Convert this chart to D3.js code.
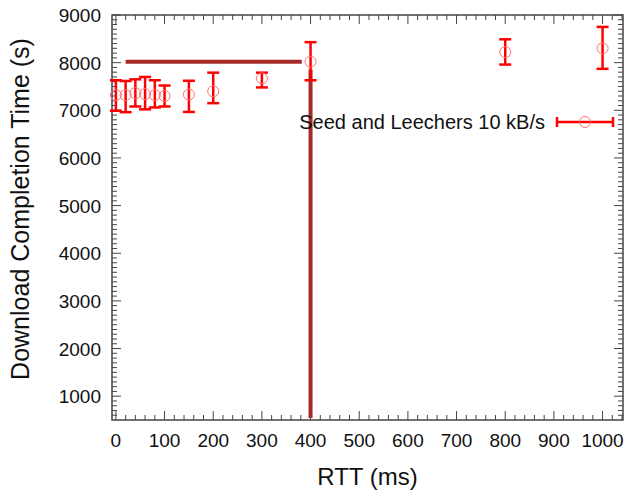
<!DOCTYPE html>
<html><head><meta charset="utf-8">
<script src="https://cdn.jsdelivr.net/npm/d3@7/dist/d3.min.js"></script>
<style>body{margin:0;background:#fff;} svg{display:block;font-family:"Liberation Sans",Arial,sans-serif;}</style>
</head><body>
<svg id="c" width="626" height="492"></svg>
<script>
const rtt = [0, 20, 40, 60, 80, 100, 150, 200, 300, 400, 800, 1000];
const meanTime = [7320, 7320, 7360, 7340, 7320, 7300, 7330, 7400, 7670, 8020, 8220, 8300];
const lowTime  = [6990, 6960, 7080, 7020, 7060, 7080, 6965, 7150, 7480, 7630, 7960, 7870];
const highTime = [7630, 7615, 7650, 7700, 7630, 7520, 7620, 7790, 7790, 8430, 8490, 8750];
const xTicks = [0, 100, 200, 300, 400, 500, 600, 700, 800, 900, 1000];
const yTicks = [1000, 2000, 3000, 4000, 5000, 6000, 7000, 8000, 9000];
const hLine = {x0: 20, x1: 382, y: 8020};
const vLine = {x: 400, y0: 7850, y1: 500};
const seriesName = "Seed and Leechers 10 kB/s";

const svg = d3.select("#c");
const L = 112, R = 623, T = 15, B = 420;
const x = d3.scaleLinear().domain([-8, 1042]).range([L, R]);
const y = d3.scaleLinear().domain([500, 9000]).range([B, T]);
const red = "#ff0000", brown = "#a52a2a", axisCol = "#444";

// ticks
const g = svg.append("g");
const xMinor = d3.range(0, 1041, 20);
const yMinor = d3.range(600, 9001, 100);
xMinor.forEach(v => {
  const major = v % 100 === 0;
  const len = major ? 9 : 5;
  g.append("line").attr("x1", x(v)).attr("x2", x(v)).attr("y1", B).attr("y2", B - len).attr("stroke", axisCol).attr("stroke-width", 1);
  g.append("line").attr("x1", x(v)).attr("x2", x(v)).attr("y1", T).attr("y2", T + len).attr("stroke", axisCol).attr("stroke-width", 1);
});
yMinor.forEach(v => {
  const major = v % 1000 === 0;
  const len = major ? 9 : 5;
  g.append("line").attr("x1", L).attr("x2", L + len).attr("y1", y(v)).attr("y2", y(v)).attr("stroke", axisCol).attr("stroke-width", 1);
  g.append("line").attr("x1", R).attr("x2", R - len).attr("y1", y(v)).attr("y2", y(v)).attr("stroke", axisCol).attr("stroke-width", 1);
});
// frame
svg.append("rect").attr("x", L).attr("y", T).attr("width", R - L).attr("height", B - T)
  .attr("fill", "none").attr("stroke", axisCol).attr("stroke-width", 1.5);

// tick labels
svg.selectAll(".xl").data(xTicks).enter().append("text")
  .attr("x", d => x(d)).attr("y", 447).attr("text-anchor", "middle")
  .attr("font-size", 19).attr("fill", "#111").text(d => d);
svg.selectAll(".yl").data(yTicks).enter().append("text")
  .attr("x", 101).attr("y", d => y(d) + 7).attr("text-anchor", "end")
  .attr("font-size", 19).attr("fill", "#111").text(d => d);

// axis titles
svg.append("text").attr("x", (L + R) / 2 + 0).attr("y", 485).attr("text-anchor", "middle")
  .attr("font-size", 24).attr("fill", "#111").text("RTT (ms)");
svg.append("text").attr("transform", "translate(29,209) rotate(-90)").attr("text-anchor", "middle")
  .attr("font-size", 25).attr("fill", "#111").text("Download Completion Time (s)");

// brown lines
svg.append("line").attr("x1", x(hLine.x0)).attr("x2", x(hLine.x1)).attr("y1", y(hLine.y)).attr("y2", y(hLine.y))
  .attr("stroke", brown).attr("stroke-width", 4);
svg.append("line").attr("x1", x(vLine.x)).attr("x2", x(vLine.x)).attr("y1", y(vLine.y0)).attr("y2", y(vLine.y1) - 2)
  .attr("stroke", brown).attr("stroke-width", 4);

// error bars
const cap = 6;
const eb = svg.append("g");
rtt.forEach((r, i) => {
  const cx = x(r);
  eb.append("line").attr("x1", cx).attr("x2", cx).attr("y1", y(lowTime[i])).attr("y2", y(highTime[i])).attr("stroke", red).attr("stroke-width", 2.5);
  [lowTime[i], highTime[i]].forEach(v => {
    eb.append("line").attr("x1", cx - cap).attr("x2", cx + cap).attr("y1", y(v)).attr("y2", y(v)).attr("stroke", red).attr("stroke-width", 2.5);
  });
  eb.append("circle").attr("cx", cx).attr("cy", y(meanTime[i])).attr("r", 5.5)
    .attr("fill", "none").attr("stroke", "#ff7070").attr("stroke-width", 1);
});

// legend
svg.append("text").attr("x", 545).attr("y", 129).attr("text-anchor", "end")
  .attr("font-size", 20).attr("fill", "#111").text(seriesName);
const ly = 122, lx0 = 557, lx1 = 613;
svg.append("line").attr("x1", lx0).attr("x2", lx1).attr("y1", ly).attr("y2", ly).attr("stroke", red).attr("stroke-width", 2.5);
[lx0, lx1].forEach(px => svg.append("line").attr("x1", px).attr("x2", px).attr("y1", ly - 5).attr("y2", ly + 5).attr("stroke", red).attr("stroke-width", 2.5));
svg.append("circle").attr("cx", (lx0 + lx1) / 2).attr("cy", ly).attr("r", 5.5).attr("fill", "none").attr("stroke", "#ff7070").attr("stroke-width", 1);
</script>
</body></html>
